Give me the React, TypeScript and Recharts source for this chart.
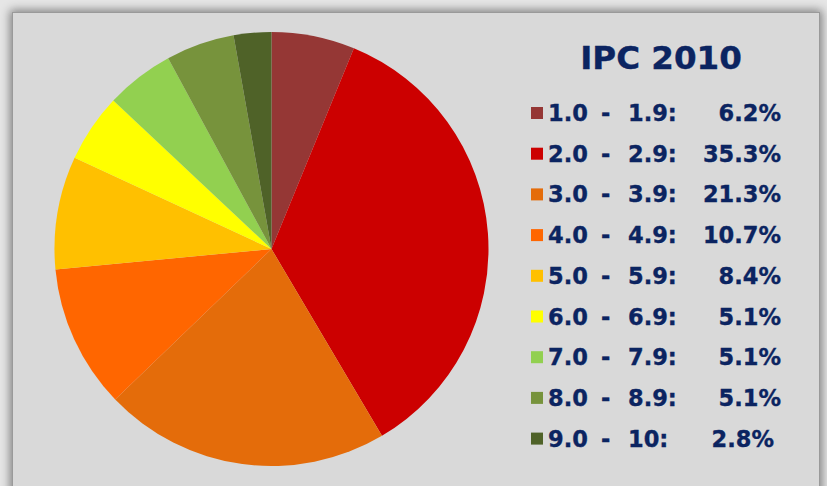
import React from "react";
import { PieChart, Pie, Cell, Legend } from "recharts";

const lowerBounds = ["1.0", "2.0", "3.0", "4.0", "5.0", "6.0", "7.0", "8.0", "9.0"];
const upperBounds = ["1.9", "2.9", "3.9", "4.9", "5.9", "6.9", "7.9", "8.9", "10"];
const shares = [6.2, 35.3, 21.3, 10.7, 8.4, 5.1, 5.1, 5.1, 2.8];
const colors = ["#953735", "#cc0000", "#e46c0a", "#ff6600", "#ffc000", "#ffff00", "#92d050", "#77933c", "#4f6228"];
const title = "IPC 2010";

const data = shares.map((v, i) => ({ name: `${lowerBounds[i]} - ${upperBounds[i]}`, value: v }));

const NAVY = "#0b2461";
const FONT = "'DejaVu Sans', Verdana, sans-serif";

const LegendBox = () => {
  const ox = 520;
  const oy = 30;
  return (
    <svg width={300} height={440} style={{ overflow: "visible" }}>
      <text x={661 - ox} y={69 - oy} textAnchor="middle" fontFamily={FONT} fontWeight="bold" fontSize={32.5} fill={NAVY} stroke={NAVY} strokeWidth={0.4}>
        {title}
      </text>
      {data.map((d, i) => {
        const cy = 113 + i * 40.7 - oy;
        const endX = (upperBounds[i].length < 3 ? 774 : 781) - ox;
        return (
          <g key={i}>
            <rect x={531 - ox} y={cy - 6} width={12} height={12} fill={colors[i]} />
            <g fontFamily={FONT} fontWeight="bold" fontSize={22.5} fill={NAVY} stroke={NAVY} strokeWidth={0.35}>
              <text x={548 - ox} y={cy + 8}>{lowerBounds[i]}</text>
              <text x={601 - ox} y={cy + 8}>-</text>
              <text x={628 - ox} y={cy + 8}>{upperBounds[i] + ":"}</text>
              <text x={endX} y={cy + 8} textAnchor="end">{shares[i].toFixed(1) + "%"}</text>
            </g>
          </g>
        );
      })}
    </svg>
  );
};

export default function App() {
  return (
    <div style={{ position: "absolute", left: 0, top: 0, width: 827, height: 486, background: "#e6e6e6", overflow: "hidden" }}>
      <div
        style={{
          position: "absolute",
          left: 12,
          top: 12,
          width: 806,
          height: 490,
          background: "#d9d9d9",
          border: "1px solid #9a9a9a",
          boxShadow: "0 0 9px 2px rgba(0,0,0,0.45)",
        }}
      >
        <PieChart width={806} height={490} margin={{ top: 0, right: 0, bottom: 0, left: 0 }}>
          <Pie
            data={data}
            dataKey="value"
            nameKey="name"
            cx={258.5}
            cy={236}
            outerRadius={217}
            startAngle={90}
            endAngle={-270}
            stroke="none"
            isAnimationActive={false}
          >
            {data.map((_, i) => (
              <Cell key={i} fill={colors[i]} />
            ))}
          </Pie>
          <Legend
            content={<LegendBox />}
            wrapperStyle={{ position: "absolute", left: 520 - 13, top: 30 - 13, width: 300, height: 440 }}
          />
        </PieChart>
      </div>
    </div>
  );
}
